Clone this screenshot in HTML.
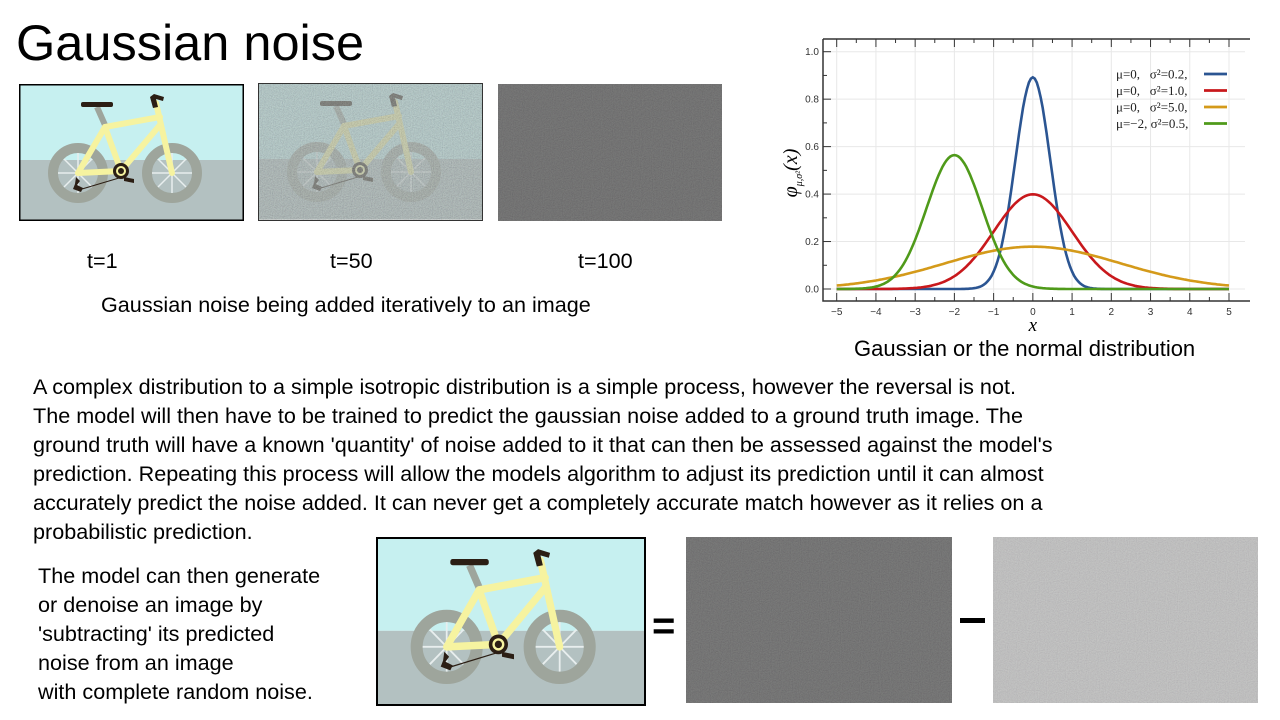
<!DOCTYPE html>
<html><head><meta charset="utf-8">
<style>
body{margin:0;width:1280px;height:720px;background:#fff;position:relative;overflow:hidden;font-family:"Liberation Sans",sans-serif;color:#000}
.t{position:absolute;white-space:nowrap;font-size:21.6px;line-height:22px}
.img{position:absolute}
</style></head><body>
<svg width="0" height="0" style="position:absolute">
<defs>
<g id="bike">
<rect x="0" y="0" width="223" height="75" fill="#c6f0f0"/>
<rect x="0" y="75" width="223" height="60" fill="#b3c1c1"/>
<circle cx="58" cy="88" r="25" fill="none" stroke="#9ea59c" stroke-width="10"/>
<circle cx="152" cy="88" r="25" fill="none" stroke="#9ea59c" stroke-width="10"/>
<g stroke="#e8eeee" stroke-width="1.5">
<line x1="58" y1="68" x2="58" y2="108"/><line x1="38" y1="88" x2="78" y2="88"/><line x1="44" y1="74" x2="72" y2="102"/><line x1="72" y1="74" x2="44" y2="102"/>
<line x1="152" y1="68" x2="152" y2="108"/><line x1="132" y1="88" x2="172" y2="88"/><line x1="138" y1="74" x2="166" y2="102"/><line x1="166" y1="74" x2="138" y2="102"/>
</g>
<line x1="77" y1="22" x2="85" y2="40" stroke="#9ea59c" stroke-width="6"/>
<g stroke="#f6f3a0" stroke-width="6" stroke-linecap="round">
<line x1="58" y1="88" x2="101" y2="86"/>
<line x1="58" y1="88" x2="85" y2="42"/>
<line x1="85" y1="42" x2="101" y2="86"/>
<line x1="85" y1="42" x2="140" y2="32"/>
<line x1="101" y1="86" x2="140" y2="40"/>
<line x1="136" y1="18" x2="152" y2="88"/>
</g>
<rect x="61" y="17" width="32" height="5" rx="2" fill="#2b1e14"/>
<path d="M130 12 l4 -3 l10 3 l-1 4 l-7 -2 l2 8 l-5 1 z" fill="#2b1e14"/>
<circle cx="101" cy="86" r="8" fill="#2b1e14"/><circle cx="101" cy="86" r="5" fill="#f6f3a0"/><circle cx="101" cy="86" r="3" fill="#2b1e14"/>
<path d="M104 92 l10 2 l0 4 l-10 -2z" fill="#2b1e14"/>
<path d="M56 92 l4 4 l-3 4 l6 3 l-2 4 l-8 -3 l2 -5 z" fill="#2b1e14"/>
<line x1="62" y1="104" x2="99" y2="93" stroke="#2b1e14" stroke-width="1"/>
</g>
<filter id="nz" x="0" y="0" width="100%" height="100%"><feTurbulence type="fractalNoise" baseFrequency="0.9" numOctaves="2" seed="3"/><feColorMatrix type="saturate" values="0.15"/><feComponentTransfer><feFuncA type="linear" slope="0" intercept="1"/></feComponentTransfer></filter>
</defs></svg>

<div class="t" style="left:16px;top:18px;font-size:50.5px;line-height:50px">Gaussian noise</div>

<svg class="img" style="left:19px;top:84px" width="225" height="137" viewBox="0 0 225 137"><g transform="translate(1,1)"><use href="#bike"/></g><rect x="0.75" y="0.75" width="223.5" height="135.5" fill="none" stroke="#000" stroke-width="1.5"/></svg>

<svg class="img" style="left:258px;top:83px" width="225" height="138" viewBox="0 0 225 138"><g transform="translate(1,1)"><use href="#bike"/></g><rect x="1" y="1" width="223" height="136" filter="url(#nz)" opacity="0.55"/><rect x="1" y="1" width="223" height="136" fill="#8a9a98" opacity="0.3"/><rect x="0.5" y="0.5" width="224" height="137" fill="none" stroke="#333" stroke-width="1"/></svg>

<svg class="img" style="left:498px;top:84px" width="224" height="137"><rect width="224" height="137" fill="#5c5c5c"/><rect width="224" height="137" filter="url(#nz)" opacity="0.35"/><rect width="224" height="137" fill="#646464" opacity="0.4"/></svg>

<div class="t" style="left:87px;top:250px">t=1</div>
<div class="t" style="left:330px;top:250px">t=50</div>
<div class="t" style="left:578px;top:250px">t=100</div>
<div class="t" style="left:101px;top:294px">Gaussian noise being added iteratively to an image</div>

<svg id="gausschart" class="img" style="left:770px;top:30px" width="480" height="310"></svg>
<div class="t" style="left:854px;top:338px;font-size:22px">Gaussian or the normal distribution</div>

<div>
<div class="t" style="left:33px;top:376px">A complex distribution to a simple isotropic distribution is a simple process, however the reversal is not.</div>
<div class="t" style="left:33px;top:405px">The model will then have to be trained to predict the gaussian noise added to a ground truth image. The</div>
<div class="t" style="left:33px;top:434px">ground truth will have a known 'quantity' of noise added to it that can then be assessed against the model's</div>
<div class="t" style="left:33px;top:463px">prediction. Repeating this process will allow the models algorithm to adjust its prediction until it can almost</div>
<div class="t" style="left:33px;top:492px">accurately predict the noise added. It can never get a completely accurate match however as it relies on a</div>
<div class="t" style="left:33px;top:521px">probabilistic prediction.</div>
</div>
<div>
<div class="t" style="left:38px;top:565px">The model can then generate</div>
<div class="t" style="left:38px;top:594px">or denoise an image by</div>
<div class="t" style="left:38px;top:623px">'subtracting' its predicted</div>
<div class="t" style="left:38px;top:652px">noise from an image</div>
<div class="t" style="left:38px;top:681px">with complete random noise.</div>
</div>

<svg class="img" style="left:376px;top:537px" width="270" height="169" viewBox="0 0 270 169"><svg x="1" y="1" width="268" height="167" viewBox="0 0 223 135" preserveAspectRatio="none"><use href="#bike"/></svg><rect x="1" y="1" width="268" height="167" fill="none" stroke="#000" stroke-width="2"/></svg>
<div class="t" style="left:652px;top:606px;font-size:40px;line-height:40px;font-weight:bold">=</div>
<svg class="img" style="left:686px;top:537px" width="266" height="166"><rect width="266" height="166" fill="#5e5e5e"/><rect width="266" height="166" filter="url(#nz)" opacity="0.35"/><rect width="266" height="166" fill="#666" opacity="0.4"/></svg>
<div style="position:absolute;left:960px;top:618px;width:25px;height:5px;background:#000"></div>
<svg class="img" style="left:993px;top:537px" width="265" height="166"><rect width="265" height="166" fill="#bcbcbc"/><rect width="265" height="166" filter="url(#nz)" opacity="0.4"/><rect width="265" height="166" fill="#c2c2c2" opacity="0.45"/></svg>

<script>
var curveMeans=[0,0,0,-2];
var curveVariances=[0.2,1.0,5.0,0.5];
var curveColors=["#2b5592","#c8181c","#d49a1a","#4f9a1a"];
var legendLabels=["\u03bc=0,   \u03c3\u00b2=0.2,","\u03bc=0,   \u03c3\u00b2=1.0,","\u03bc=0,   \u03c3\u00b2=5.0,","\u03bc=\u22122, \u03c3\u00b2=0.5,"];
var xTickValues=[-5,-4,-3,-2,-1,0,1,2,3,4,5];
var yTickValues=[0,0.2,0.4,0.6,0.8,1.0];
var yTickLabels=["0.0","0.2","0.4","0.6","0.8","1.0"];

(function(){
var SVGNS="http://www.w3.org/2000/svg";
var host=document.getElementById('gausschart');
function sx(v){return 66.7+(v+5)*39.23;}
function sy(v){return 259-v*237.3;}
function make(tag,attrs,parent){var e=document.createElementNS(SVGNS,tag);for(var k in attrs){e.setAttribute(k,String(attrs[k]));}(parent||host).appendChild(e);return e;}
try{
var i,g,t,m;
for(i=0;i<xTickValues.length;i++){
 g=make('line',{x1:sx(xTickValues[i]),x2:sx(xTickValues[i]),y1:9,y2:271,stroke:'#e8e8e8','stroke-width':1});
 
 
}
for(i=0;i<yTickValues.length;i++){
 g=make('line',{x1:53,x2:475,y1:sy(yTickValues[i]),y2:sy(yTickValues[i]),stroke:'#e8e8e8','stroke-width':1});
 
 
}
var axesFrame=make('path',{d:'M53 9 L53 271 L480 271',fill:'none',stroke:'#333','stroke-width':1.5});


var topLine=make('line',{x1:53,x2:480,y1:9,y2:9,stroke:'#333','stroke-width':1.5});


for(i=0;i<xTickValues.length;i++){
 make('line',{x1:sx(xTickValues[i]),x2:sx(xTickValues[i]),y1:271,y2:263,stroke:'#333'});
 make('line',{x1:sx(xTickValues[i]),x2:sx(xTickValues[i]),y1:9,y2:17,stroke:'#333'});
 if(i<xTickValues.length-1){m=sx(xTickValues[i]+0.5);make('line',{x1:m,x2:m,y1:271,y2:267,stroke:'#333'});make('line',{x1:m,x2:m,y1:9,y2:13,stroke:'#333'});}
 t=make('text',{x:sx(xTickValues[i]),y:285,'font-size':10,'text-anchor':'middle',fill:'#333','font-family':'Liberation Sans'});
 t.textContent=xTickValues[i]<0?'\u2212'+(-xTickValues[i]):String(xTickValues[i]);
 
 
}
for(i=0;i<yTickValues.length;i++){
 make('line',{x1:53,x2:61,y1:sy(yTickValues[i]),y2:sy(yTickValues[i]),stroke:'#333'});
 if(i<yTickValues.length-1){m=sy(yTickValues[i]+0.1);make('line',{x1:53,x2:57,y1:m,y2:m,stroke:'#333'});}
 t=make('text',{x:49,y:sy(yTickValues[i])+3.5,'font-size':10,'text-anchor':'end',fill:'#333','font-family':'Liberation Sans'});
 t.textContent=yTickLabels[i];
 
 
}
var xTitle=make('text',{x:sx(0),y:301,'font-size':19,'font-style':'italic','text-anchor':'middle','font-family':'Liberation Serif'});
xTitle.textContent='x';


var yTitle=make('text',{x:0,y:0,'font-size':20,'font-style':'italic','text-anchor':'middle','font-family':'Liberation Serif',transform:'translate(27,143) rotate(-90)'});


var ts1=make('tspan',{},yTitle);ts1.textContent='\u03c6';
var ts2=make('tspan',{'font-size':10,dy:5},yTitle);ts2.textContent='\u03bc,\u03c3\u00b2';
var ts3=make('tspan',{dy:-5},yTitle);ts3.textContent='(x)';
for(var s=0;s<curveMeans.length;s++){
 var d='';
 for(var k=0;k<=200;k++){var xv=-5+k*0.05;var dv=Math.exp(-Math.pow(xv-curveMeans[s],2)/(2*curveVariances[s]))/Math.sqrt(2*Math.PI*curveVariances[s]);d+=(k?'L':'M')+sx(xv).toFixed(1)+' '+sy(dv).toFixed(1);}
 var pth=make('path',{d:d,fill:'none',stroke:curveColors[s],'stroke-width':2.6});
 
 
 var ly=44+s*16.5;
 var lt=make('text',{x:346,y:ly+4.5,'font-size':13,'font-family':'Liberation Serif',fill:'#222'});
 lt.textContent=legendLabels[s];
 lt.style.whiteSpace='pre';
 
 
 var ll=make('line',{x1:434,x2:457,y1:ly,y2:ly,stroke:curveColors[s],'stroke-width':2.8});
 
 
}
}catch(err){}
})();
</script>
</body></html>
